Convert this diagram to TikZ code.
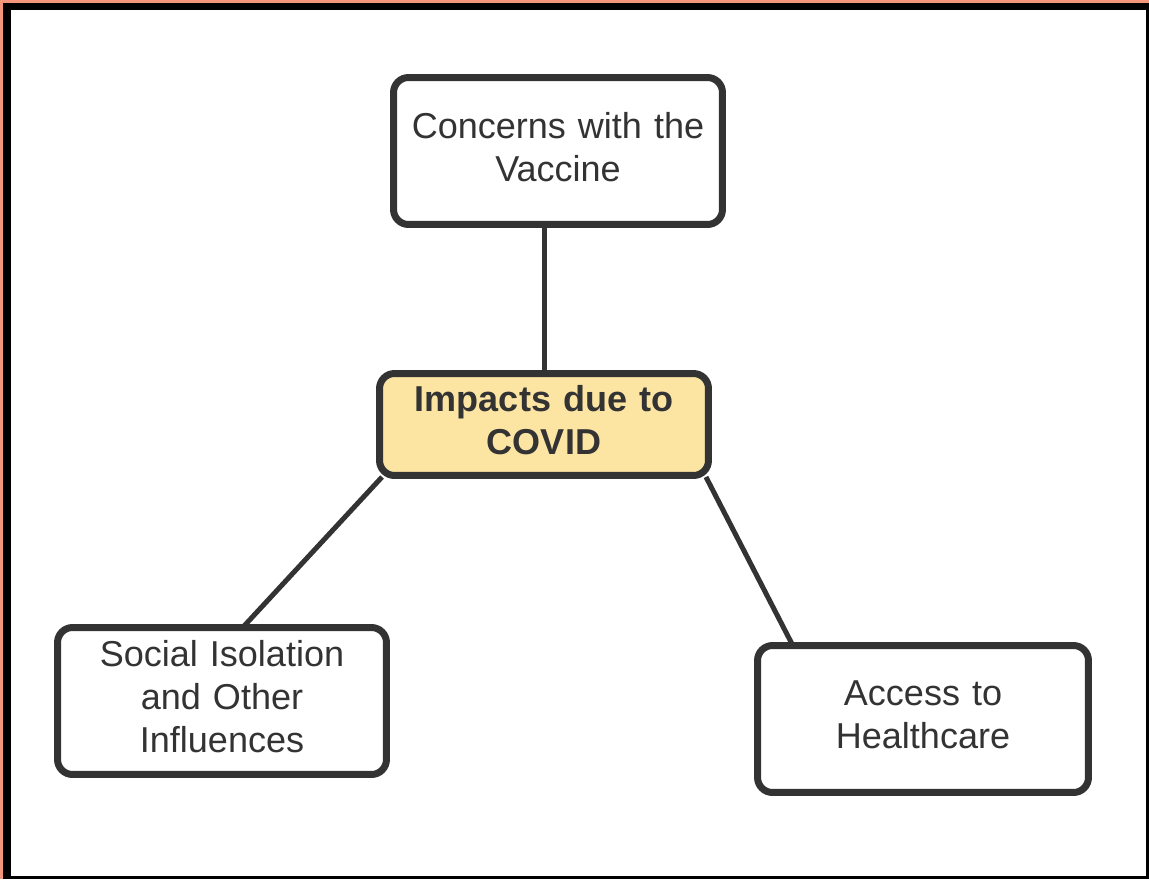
\documentclass[tikz,border=0pt]{standalone}
\usepackage{fontspec}
\setmainfont{Liberation Sans}
\usetikzlibrary{calc}
\definecolor{framered}{HTML}{F4967C}
\definecolor{inkgray}{HTML}{333333}
\definecolor{covidyellow}{HTML}{FCE5A3}

\begin{document}
\begin{tikzpicture}[x=0.02cm,y=-0.02cm]
        % frame round the page
        \fill[framered] (0,0) rectangle (1149,879);
        \fill[black] (3,3) rectangle (1149,879);
        \fill[white] (11,10) rectangle (1146,876);
        \useasboundingbox (0,0) rectangle (1149,879);
        \begin{scope}[main node/.style={rectangle,rounded corners=0.3cm,draw=inkgray,line width=0.14cm,fill=white,text=inkgray,minimum width=6.58cm,minimum height=2.94cm,text width=6cm,align=center,inner sep=0pt,font=\fontsize{20.5}{24.5}\selectfont,execute at end node={\endgraf\vspace{0.17cm}}}]
        \node[main node] (concerns) at (558,151) {Concerns with the\\Vaccine};
        \node[main node,fill=covidyellow,minimum height=2.04cm,font=\fontsize{20.5}{24.5}\selectfont\bfseries] (impact) at (544,424.5) {Impacts due to\\COVID};
        \node[main node] (social) at (222,701) {Social Isolation\\and Other\\Influences};
        \node[main node,minimum width=6.62cm] (access) at (923,719) {Access to\\Healthcare};
        \path[draw=inkgray,line width=0.1cm]
        (impact.north) edge (impact.north |- concerns.south)
        ($(impact.south west)+(6,-2)$) edge ($(social.north west)+(190,2)$)
        ($(impact.south east)+(-6,-2)$) edge ($(access.north west)+(38,2)$);
        \end{scope}
    \end{tikzpicture}
\end{document}
